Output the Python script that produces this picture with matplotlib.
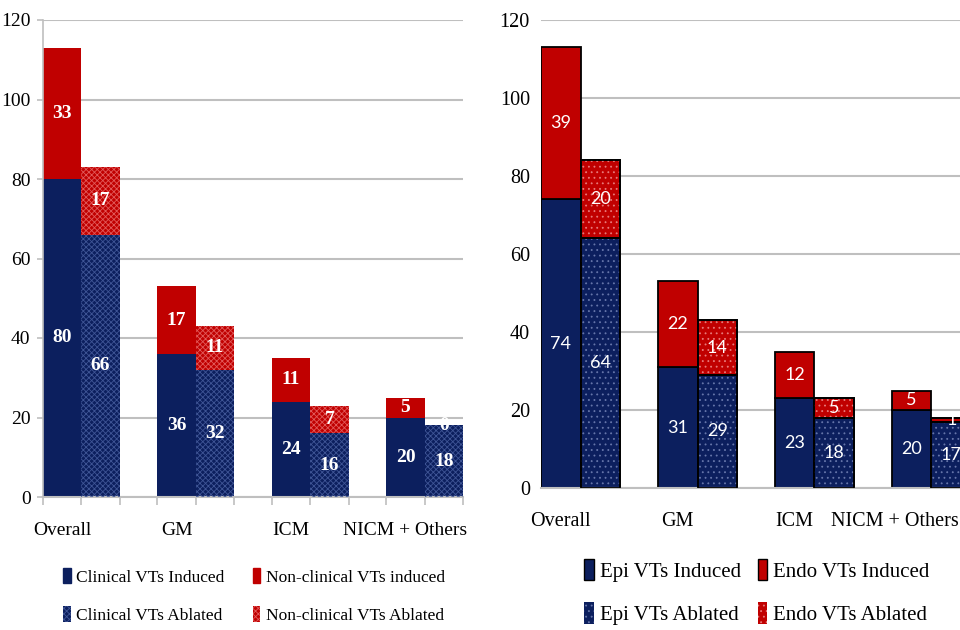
import numpy as np
from matplotlib import pyplot as plt
from matplotlib.patches import Patch
from matplotlib.transforms import ScaledTranslation

plt.rcParams['hatch.linewidth'] = 0.6

groups = ['Overall', 'GM', 'ICM', 'NICM + Others']

# left panel
clin_ind = [80, 36, 24, 20]
nonclin_ind = [33, 17, 11, 5]
clin_abl = [66, 32, 16, 18]
nonclin_abl = [17, 11, 7, 0]

# right panel
epi_ind = [74, 31, 23, 20]
endo_ind = [39, 22, 12, 5]
epi_abl = [64, 29, 18, 17]
endo_abl = [20, 14, 5, 1]

yticks = [0, 20, 40, 60, 80, 100, 120]

navy = '#0c1f5e'
red = '#c00000'
grid_c = '#bfbfbf'
serif = 'Liberation Serif'

fig = plt.figure(figsize=(9.6, 6.3), dpi=100)

x = np.arange(len(groups))


def hatched_bar(ax, xpos, h, bottom, w, face, hatch, hcol, edge=None, lw=0):
    ax.bar(xpos, h, w, bottom=bottom, color=face, edgecolor=edge if edge else face,
           linewidth=lw, zorder=2)
    ax.bar(xpos, h, w, bottom=bottom, color='none', edgecolor=hcol, hatch=hatch,
           linewidth=0, zorder=3)
    if edge:
        ax.bar(xpos, h, w, bottom=bottom, color='none', edgecolor=edge,
               linewidth=lw, zorder=4)


# ---------------- left chart ----------------
w1 = 0.335
ax1 = fig.add_axes([43 / 960, 133 / 630, 420 / 960, 477 / 630])
ax1.bar(x, clin_ind, w1, color=navy, zorder=2)
ax1.bar(x, nonclin_ind, w1, bottom=clin_ind, color=red, zorder=2)
hatched_bar(ax1, x + w1, clin_abl, 0, w1, navy, 'xxxxxx', '#3f5596')
hatched_bar(ax1, x + w1, nonclin_abl, clin_abl, w1, red, 'xxxxxx', '#e25a5a')

lab1 = dict(color='white', fontsize=14, fontweight='bold', family=serif,
            ha='center', va='center', zorder=5)
for i in range(len(groups)):
    ax1.text(x[i], clin_ind[i] / 2, str(clin_ind[i]), **lab1)
    ax1.text(x[i], clin_ind[i] + nonclin_ind[i] / 2, str(nonclin_ind[i]), **lab1)
    ax1.text(x[i] + w1, clin_abl[i] / 2, str(clin_abl[i]), **lab1)
    ax1.text(x[i] + w1, clin_abl[i] + nonclin_abl[i] / 2, str(nonclin_abl[i]), **lab1)

ax1.set_xlim(-w1 / 2, 3 + 1.5 * w1)
ax1.set_ylim(0, 120)
ax1.set_yticks(yticks)
ax1.set_xticks(x)
ax1.set_xticklabels(groups)
edges = np.sort(np.concatenate([x - w1 / 2, x + w1 / 2, x + 1.5 * w1]))
ax1.set_xticks(edges, minor=True)
ax1.tick_params(axis='x', which='major', length=0, pad=18)
ax1.tick_params(axis='x', which='minor', length=6, color=grid_c, width=1.2)
ax1.tick_params(axis='y', length=4, color=grid_c, width=1.2, pad=5)
for t in ax1.get_xticklabels() + ax1.get_yticklabels():
    t.set_family(serif)
    t.set_fontsize(14)
ax1.yaxis.grid(True, color=grid_c, linewidth=1.5, zorder=0)
ax1.set_axisbelow(True)
for s in ['top', 'right']:
    ax1.spines[s].set_visible(False)
ax1.spines['left'].set_color(grid_c)
ax1.spines['bottom'].set_color(grid_c)
ax1.spines['left'].set_linewidth(1.2)
ax1.spines['bottom'].set_linewidth(1.5)

h1 = [Patch(facecolor=navy, edgecolor=navy),
      Patch(facecolor=navy, edgecolor='#3f5596', hatch='xxxxxx', linewidth=0),
      Patch(facecolor=red, edgecolor=red),
      Patch(facecolor=red, edgecolor='#e25a5a', hatch='xxxxxx', linewidth=0)]
l1 = ['Clinical VTs Induced', 'Clinical VTs Ablated',
      'Non-clinical VTs induced', 'Non-clinical VTs Ablated']
fig.legend(h1, l1, ncol=2, loc='center', bbox_to_anchor=(254 / 960, 1 - 596 / 630),
           frameon=False, prop={'family': serif, 'size': 12.5},
           handlelength=0.45, handleheight=1.0, handletextpad=0.3,
           columnspacing=1.6, labelspacing=1.2)

# ---------------- right chart ----------------
w2 = 0.338
ax2 = fig.add_axes([541 / 960, 142 / 630, 430 / 960, 468 / 630])
ax2.bar(x, epi_ind, w2, color=navy, edgecolor='black', linewidth=1.3, zorder=2)
ax2.bar(x, endo_ind, w2, bottom=epi_ind, color=red, edgecolor='black',
        linewidth=1.3, zorder=2)
hatched_bar(ax2, x + w2, epi_abl, 0, w2, navy, '...', '#6676aa', 'black', 1.3)
hatched_bar(ax2, x + w2, endo_abl, epi_abl, w2, red, '...', '#e87a7a', 'black', 1.3)

lab2 = dict(color='white', fontsize=13, family='Lato', ha='center', va='center',
            zorder=5)
for i in range(len(groups)):
    ax2.text(x[i], epi_ind[i] / 2, str(epi_ind[i]), **lab2)
    ax2.text(x[i], epi_ind[i] + endo_ind[i] / 2, str(endo_ind[i]), **lab2)
    ax2.text(x[i] + w2, epi_abl[i] / 2, str(epi_abl[i]), **lab2)
    ax2.text(x[i] + w2, epi_abl[i] + endo_abl[i] / 2, str(endo_abl[i]), **lab2)

ax2.set_xlim(-w2 / 2, 3 + 1.5 * w2)
ax2.set_ylim(0, 120)
ax2.set_yticks(yticks)
ax2.set_xticks(x)
ax2.set_xticklabels(groups)
ax2.tick_params(axis='x', length=0, pad=17)
ax2.tick_params(axis='y', length=0, pad=8)
for t in ax2.get_xticklabels() + ax2.get_yticklabels():
    t.set_family(serif)
    t.set_fontsize(14.5)
# last group label is squeezed against the right edge of the picture
last = ax2.get_xticklabels()[-1]
last.set_horizontalalignment('right')
last.set_transform(last.get_transform() + ScaledTranslation(0.47, 0, fig.dpi_scale_trans))
ax2.yaxis.grid(True, color=grid_c, linewidth=1.5, zorder=0)
ax2.set_axisbelow(True)
for s in ['top', 'right', 'left']:
    ax2.spines[s].set_visible(False)
ax2.spines['bottom'].set_color(grid_c)
ax2.spines['bottom'].set_linewidth(1.5)

h2 = [Patch(facecolor=navy, edgecolor='black', linewidth=1),
      Patch(facecolor=navy, edgecolor='#6676aa', hatch='...', linewidth=0),
      Patch(facecolor=red, edgecolor='black', linewidth=1),
      Patch(facecolor=red, edgecolor='#e87a7a', hatch='...', linewidth=0)]
l2 = ['Epi VTs Induced', 'Epi VTs Ablated', 'Endo VTs Induced', 'Endo VTs Ablated']
fig.legend(h2, l2, ncol=2, loc='center', bbox_to_anchor=(757 / 960, 1 - 592 / 630),
           frameon=False, prop={'family': serif, 'size': 15},
           handlelength=0.45, handleheight=1.2, handletextpad=0.3,
           columnspacing=0.8, labelspacing=1.0)

fig.savefig('out.png', dpi=100)
